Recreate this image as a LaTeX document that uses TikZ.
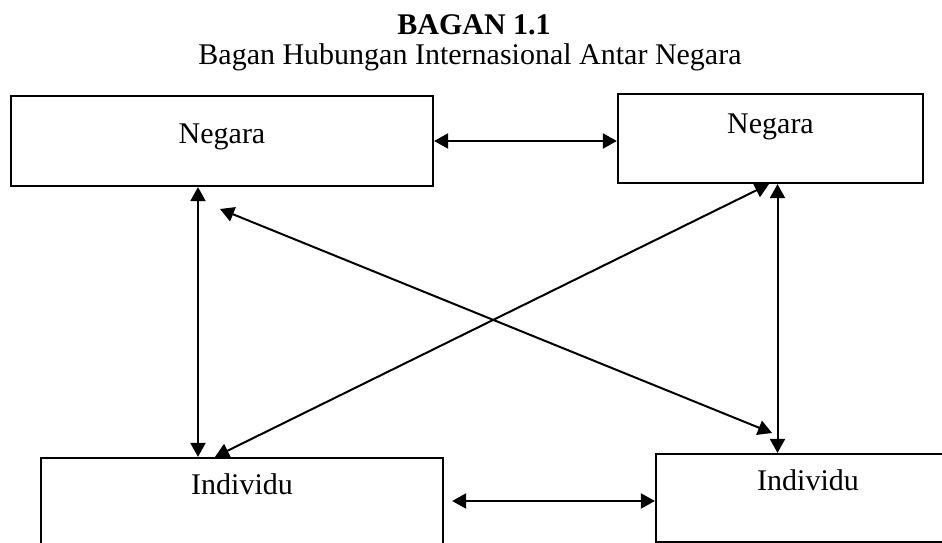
\documentclass[tikz,border=0pt]{standalone}
\usepackage{fontspec}
\setmainfont{Liberation Serif}
\usetikzlibrary{arrows.meta}
\begin{document}
\begin{tikzpicture}[x=1pt,y=-1pt,
  box/.style={draw=black, line width=2.2pt, rectangle, inner xsep=0pt,
    text height=20pt, font=\fontsize{30pt}{36pt}\selectfont},
  biarrow/.style={line width=2pt,
    {Triangle[length=14pt,width=15pt]}-{Triangle[length=14pt,width=15pt]}},
  head/.style={font=\fontsize{30pt}{36pt}\selectfont, inner sep=0pt, anchor=base}]
\useasboundingbox (0,0) rectangle (942,543);
\clip (0,0) rectangle (942,543);
\fill[white] (0,0) rectangle (942,543);
% titles
\node[head, font=\fontsize{30pt}{36pt}\selectfont\bfseries] (title) at (474,35) {BAGAN 1.1};
\node[head] (subtitle) at (470,64) {Bagan Hubungan Internasional Antar Negara};
% boxes
\node[box, minimum width=422pt, inner ysep=27pt, text depth=16pt] (tl) at (222,141) {Negara};
\node[box, minimum width=305pt, inner ysep=19pt, text depth=31pt] (tr) at (770.5,138.5) {Negara};
\node[box, minimum width=402pt, inner ysep=16pt, text depth=40pt] (bl) at (242,504) {Individu};
\node[box, minimum width=304pt, inner ysep=16pt, text depth=36pt] (br) at (808,498) {Individu};
% helper coordinates
\coordinate (lx) at (198,0);
\coordinate (rx) at (777.5,0);
\coordinate (by) at (0,501);
\coordinate (da1) at (220,209);
\coordinate (da2) at (772,433);
\coordinate (dbx1) at (769,0);
\coordinate (dbx2) at (215,0);
% connectors
\draw[biarrow] (tl.east) -- (tl.east -| tr.west);
\draw[biarrow] ([xshift=8pt]bl.east |- by) -- (br.west |- by);
\draw[biarrow] (tl.south -| lx) -- (bl.north -| lx);
\draw[biarrow] (tr.south -| rx) -- (br.north -| rx);
\draw[biarrow] (da1) -- (da2);
\draw[biarrow] (tr.south -| dbx1) -- (bl.north -| dbx2);
\end{tikzpicture}
\end{document}
